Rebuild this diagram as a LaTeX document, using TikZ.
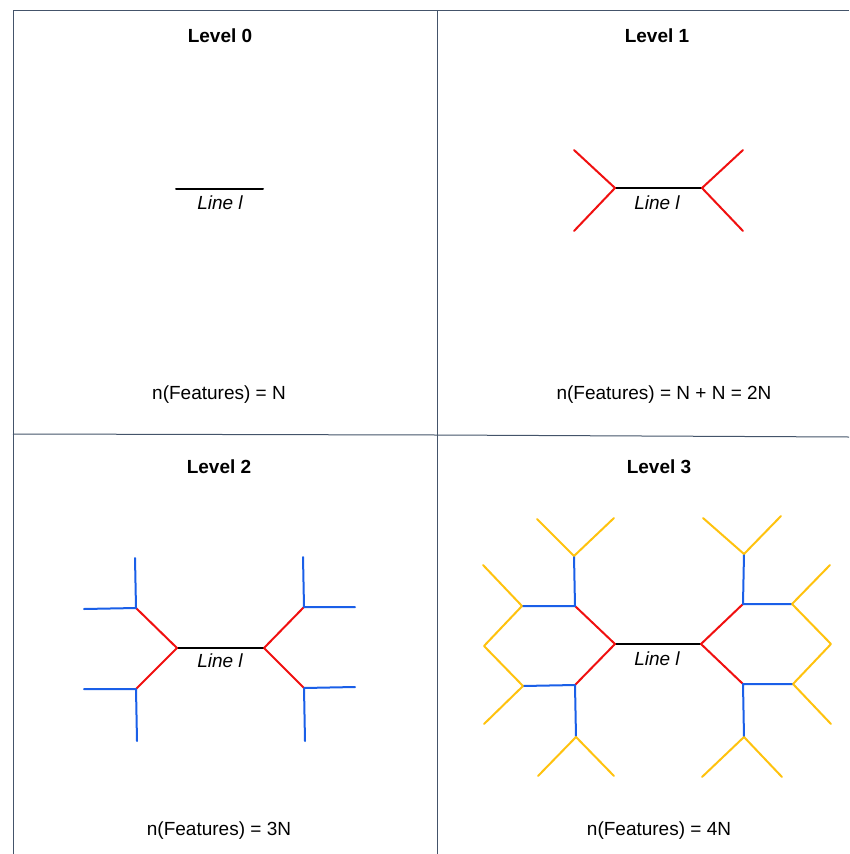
\documentclass[tikz,border=0pt]{standalone}
\usepackage{fontspec}
\setmainfont{Liberation Sans}
\definecolor{framec}{HTML}{44546A}
\definecolor{redc}{HTML}{F01010}
\definecolor{bluec}{HTML}{1A5FE8}
\definecolor{yelc}{HTML}{FFC20E}
\begin{document}
\begin{tikzpicture}[x=1pt,y=-1pt,
  frame/.style={draw=framec,line width=1pt},
  title/.style={anchor=base,font=\fontsize{19}{23}\selectfont\bfseries,inner sep=0pt},
  count/.style={anchor=base,font=\fontsize{19}{23}\selectfont,inner sep=0pt},
  lbl/.style={anchor=base,font=\fontsize{19}{23}\selectfont\itshape,inner sep=0pt},
  bline/.style={draw=black,line width=2pt},
  rline/.style={draw=redc,line width=2pt},
  uline/.style={draw=bluec,line width=2pt},
  yline/.style={draw=yelc,line width=2pt},
  line cap=round, line join=round]
\useasboundingbox (0,0) rectangle (849,854);
% frame
\coordinate (tl) at (13,10);
\coordinate (tr) at (849,10);
\coordinate (bl) at (13,854);
\coordinate (mt) at (437,10);
\coordinate (mb) at (437,854);
\coordinate (ml) at (13,434);
\coordinate (mc) at (437,435);
\coordinate (mr) at (849,437);
\draw[frame,line cap=butt] (tr) -- (tl) -- (bl);
\draw[frame,line cap=butt] (mt) -- (mb);
\draw[frame,line cap=butt] (ml) -- (mc) -- (mr);
% titles and counts
\node[title] (t0) at (220,42) {Level 0};
\node[title] (t1) at (657,42) {Level 1};
\node[title] (t2) at (219,473) {Level 2};
\node[title] (t3) at (659,473) {Level 3};
\node[count] (c0) at (219,399) {n(Features) = N};
\node[count] (c1) at (664,399) {n(Features) = N + N = 2N};
\node[count] (c2) at (219,835) {n(Features) = 3N};
\node[count] (c3) at (659,835) {n(Features) = 4N};
% Level 0
\coordinate (a0) at (176,189);
\coordinate (b0) at (263,189);
\draw[bline] (a0) -- (b0);
\node[lbl] (l0) at (220,209) {Line l};
% Level 1
\coordinate (a1) at (615,188);
\coordinate (b1) at (702,188);
\coordinate (a1u) at (574,150);
\coordinate (a1d) at (574,231);
\coordinate (b1u) at (743,150);
\coordinate (b1d) at (743,231);
\draw[bline] (a1) -- (b1);
\draw[rline] (a1u) -- (a1) -- (a1d);
\draw[rline] (b1u) -- (b1) -- (b1d);
\node[lbl] (l1) at (657,209) {Line l};
% Level 2
\coordinate (a2) at (177,648);
\coordinate (b2) at (264,648);
\coordinate (a2u) at (136,608);
\coordinate (a2d) at (136,689);
\coordinate (b2u) at (304,607);
\coordinate (b2d) at (304,688);
\coordinate (a2uh) at (84,609);
\coordinate (a2uv) at (135,558);
\coordinate (a2dh) at (84,689);
\coordinate (a2dv) at (137,741);
\coordinate (b2uh) at (355,607);
\coordinate (b2uv) at (303,557);
\coordinate (b2dh) at (355,687);
\coordinate (b2dv) at (305,741);
\draw[bline] (a2) -- (b2);
\draw[rline] (a2u) -- (a2) -- (a2d);
\draw[rline] (b2u) -- (b2) -- (b2d);
\draw[uline] (a2uh) -- (a2u) -- (a2uv);
\draw[uline] (a2dh) -- (a2d) -- (a2dv);
\draw[uline] (b2uh) -- (b2u) -- (b2uv);
\draw[uline] (b2dh) -- (b2d) -- (b2dv);
\node[lbl] (l2) at (220,667) {Line l};
% Level 3
\coordinate (a3) at (615,644);
\coordinate (b3) at (701,644);
\coordinate (a3u) at (575,606);
\coordinate (a3d) at (575,685);
\coordinate (b3u) at (743,604);
\coordinate (b3d) at (743,684);
\coordinate (a3uh) at (522,606);
\coordinate (a3uv) at (574,556);
\coordinate (a3dh) at (523,686);
\coordinate (a3dv) at (576,737);
\coordinate (b3uh) at (792,604);
\coordinate (b3uv) at (744,554);
\coordinate (b3dh) at (793,684);
\coordinate (b3dv) at (744,737);
\coordinate (yl) at (484,646);
\coordinate (yr) at (831,644);
\draw[black,line width=1.2pt] (a3) -- (b3);
\draw[rline] (a3u) -- (a3) -- (a3d);
\draw[rline] (b3u) -- (b3) -- (b3d);
\draw[uline] (a3uh) -- (a3u) -- (a3uv);
\draw[uline] (a3dh) -- (a3d) -- (a3dv);
\draw[uline] (b3uh) -- (b3u) -- (b3uv);
\draw[uline] (b3dh) -- (b3d) -- (b3dv);
\draw[yline] (537,519) -- (a3uv) -- (614,518);
\draw[yline] (483,565) -- (a3uh) -- (yl) -- (a3dh) -- (484,724);
\draw[yline] (538,776) -- (a3dv) -- (614,776);
\draw[yline] (703,518) -- (b3uv) -- (781,516);
\draw[yline] (830,565) -- (b3uh) -- (yr) -- (b3dh) -- (831,724);
\draw[yline] (702,777) -- (b3dv) -- (782,777);
\node[lbl] (l3) at (657,665) {Line l};
\end{tikzpicture}
\end{document}
